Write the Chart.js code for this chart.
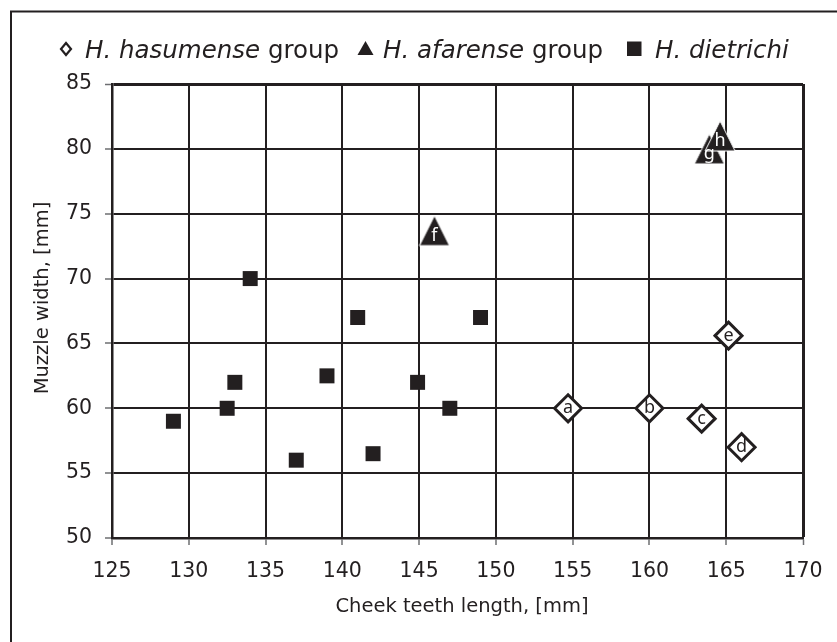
<!DOCTYPE html>
<html>
<head>
<meta charset="utf-8">
<script src="https://cdn.jsdelivr.net/npm/chart.js@4/dist/chart.umd.min.js"></script>
<style>
  html, body { margin: 0; padding: 0; background: #fff; }
  #c { display: block; }
</style>
</head>
<body>
<canvas id="c" width="837" height="642"></canvas>
<script>
// H. hasumense group (open diamonds, tagged a–e)
const hasumenseX = [154.7, 160.0, 163.4, 166.0, 165.15];
const hasumenseY = [60.0, 60.0, 59.2, 57.0, 65.6];
const hasumenseTags = ['a', 'b', 'c', 'd', 'e'];

// H. afarense group (filled triangles, tagged f–h)
const afarenseX = [146.0, 163.9, 164.6];
const afarenseY = [73.7, 80.0, 81.0];
const afarenseTags = ['f', 'g', 'h'];

// H. dietrichi (filled squares)
const dietrichiX = [129, 132.5, 133, 134, 137, 139, 141, 142, 144.9, 147, 149];
const dietrichiY = [59, 60, 62, 70, 56, 62.5, 67, 56.5, 62, 60, 67];

// Axis ranges and tick steps
const xRange = [125, 170];
const yRange = [50, 85];
const xStep = 5;
const yStep = 5;

const xTitle = 'Cheek teeth length, [mm]';
const yTitle = 'Muzzle width, [mm]';
const keyNames = ['H. hasumense', 'H. afarense', 'H. dietrichi'];
const keySuffix = [' group', ' group', ''];

const INK = '#231f20';
const FONT = '"DejaVu Sans", Verdana, sans-serif';
const TAG_FONT = '"Noto Sans", "DejaVu Sans", sans-serif';

function toPoints(xs, ys) {
  return xs.map((x, i) => ({ x: x, y: ys[i] }));
}

// Filled triangle marker with a thin white rim
function triangleMark(w, h) {
  const c = document.createElement('canvas');
  c.width = w + 2;
  c.height = h + 2;
  const g = c.getContext('2d');
  g.beginPath();
  g.moveTo(c.width / 2, 1);
  g.lineTo(c.width - 1, h + 1);
  g.lineTo(1, h + 1);
  g.closePath();
  g.fillStyle = INK;
  g.fill();
  g.strokeStyle = '#ffffff';
  g.lineWidth = 1;
  g.stroke();
  return c;
}

// White page and the partial outer frame (left + top)
const framePlugin = {
  id: 'frame',
  beforeDraw(chart) {
    const ctx = chart.ctx;
    ctx.save();
    ctx.fillStyle = '#ffffff';
    ctx.fillRect(0, 0, chart.width, chart.height);
    ctx.strokeStyle = INK;
    ctx.lineWidth = 2;
    ctx.beginPath();
    ctx.moveTo(11, chart.height);
    ctx.lineTo(11, 11.5);
    ctx.lineTo(chart.width, 11.5);
    ctx.stroke();
    ctx.restore();
  }
};

// Letter tags written inside the markers
const tagPlugin = {
  id: 'tags',
  afterDatasetsDraw(chart) {
    const ctx = chart.ctx;
    ctx.save();
    ctx.font = '18px ' + TAG_FONT;
    ctx.textAlign = 'center';
    ctx.textBaseline = 'alphabetic';
    chart.data.datasets.forEach((ds, i) => {
      if (!ds.tags) return;
      const meta = chart.getDatasetMeta(i);
      meta.data.forEach((el, j) => {
        ctx.fillStyle = ds.tagColor;
        ctx.fillText(ds.tags[j], el.x, el.y + ds.tagDy);
      });
    });
    ctx.restore();
  }
};

// Key row across the top and the two axis titles
const textPlugin = {
  id: 'texts',
  afterDraw(chart) {
    const ctx = chart.ctx;
    ctx.save();
    ctx.fillStyle = INK;
    ctx.strokeStyle = INK;
    const base = 58;

    // open diamond
    ctx.lineWidth = 2.2;
    ctx.beginPath();
    ctx.moveTo(66, 43); ctx.lineTo(71, 49); ctx.lineTo(66, 55); ctx.lineTo(61, 49);
    ctx.closePath();
    ctx.stroke();
    // filled triangle
    ctx.beginPath();
    ctx.moveTo(365.5, 41); ctx.lineTo(373.5, 55); ctx.lineTo(357.5, 55);
    ctx.closePath();
    ctx.fill();
    // filled square
    ctx.fillRect(627, 41.5, 14.5, 14.5);

    const starts = [85, 383, 655];
    ctx.textBaseline = 'alphabetic';
    ctx.textAlign = 'left';
    keyNames.forEach((name, i) => {
      ctx.font = 'italic 24.5px ' + FONT;
      ctx.fillText(name, starts[i], base);
      const w = ctx.measureText(name).width;
      ctx.font = '24.5px ' + FONT;
      ctx.fillText(keySuffix[i], starts[i] + w, base);
    });

    // axis titles
    ctx.font = '19.5px ' + FONT;
    ctx.textAlign = 'center';
    ctx.textBaseline = 'middle';
    ctx.fillText(xTitle, 462, 607);
    ctx.translate(43, 298);
    ctx.rotate(-Math.PI / 2);
    ctx.fillText(yTitle, 0, 0);
    ctx.restore();
  }
};

const gridWidth = (ctx) => {
  const v = ctx.tick && ctx.tick.value;
  return (v === xRange[1] || v === yRange[1]) ? 3 : 2;
};

new Chart(document.getElementById('c'), {
  type: 'scatter',
  data: {
    datasets: [
      {
        label: keyNames[2],
        data: toPoints(dietrichiX, dietrichiY),
        pointStyle: 'rect',
        pointRadius: 10.6,
        pointBackgroundColor: INK,
        pointBorderWidth: 0,
        pointBorderColor: INK
      },
      {
        label: keyNames[0],
        data: toPoints(hasumenseX, hasumenseY),
        pointStyle: 'rectRot',
        pointRadius: 13.5,
        pointBackgroundColor: '#ffffff',
        pointBorderColor: INK,
        pointBorderWidth: 3,
        tags: hasumenseTags,
        tagColor: INK,
        tagDy: 5
      },
      {
        label: keyNames[1],
        data: toPoints(afarenseX, afarenseY),
        pointStyle: triangleMark(30, 30),
        pointRadius: 15,
        tags: afarenseTags,
        tagColor: '#ffffff',
        tagDy: 10.5
      }
    ]
  },
  options: {
    responsive: false,
    animation: false,
    events: [],
    layout: { padding: { left: 0, top: 84, right: 34, bottom: 0 } },
    plugins: {
      legend: { display: false },
      tooltip: { enabled: false }
    },
    elements: { point: { hoverRadius: 0 } },
    scales: {
      x: {
        type: 'linear',
        min: xRange[0],
        max: xRange[1],
        ticks: {
          stepSize: xStep,
          color: INK,
          font: { family: FONT, size: 20.5 },
          padding: 14,
          maxRotation: 0
        },
        grid: {
          color: INK,
          lineWidth: gridWidth,
          tickLength: 7,
          tickColor: '#6d6e71',
          tickWidth: 1.5
        },
        border: { color: INK, width: 2.5 },
        afterFit(scale) { scale.height = 104; }
      },
      y: {
        type: 'linear',
        min: yRange[0],
        max: yRange[1],
        ticks: {
          stepSize: yStep,
          color: INK,
          font: { family: FONT, size: 20.5 },
          padding: 13
        },
        grid: {
          color: INK,
          lineWidth: gridWidth,
          tickLength: 7,
          tickColor: '#6d6e71',
          tickWidth: 1.5
        },
        border: { color: INK, width: 2.5 },
        afterFit(scale) { scale.width = 112; }
      }
    }
  },
  plugins: [framePlugin, tagPlugin, textPlugin]
});
</script>
</body>
</html>
